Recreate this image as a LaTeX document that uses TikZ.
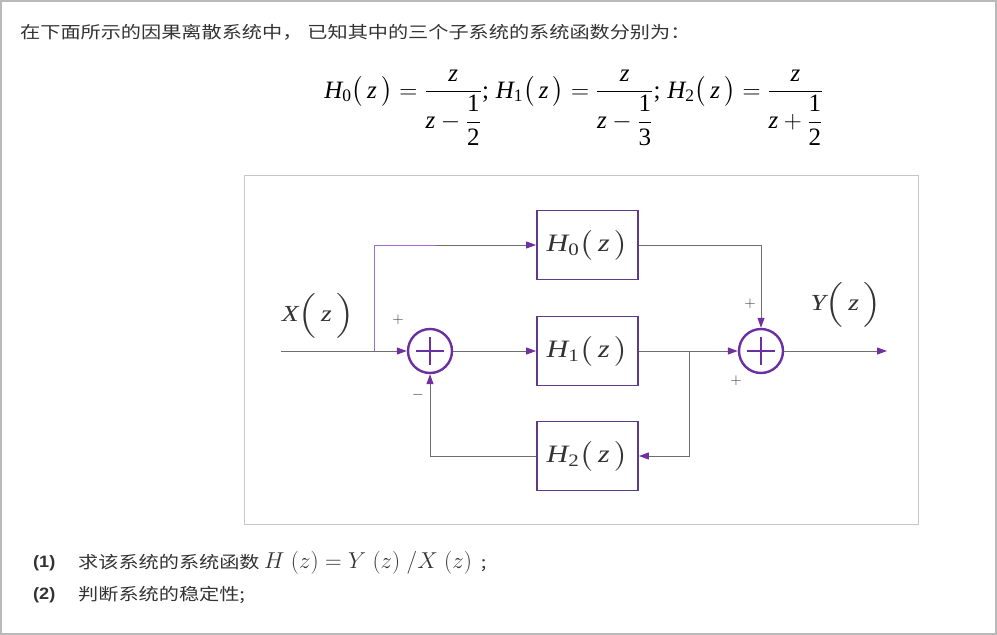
\RequirePackage{fix-cm}
\documentclass[tikz,border=0pt]{standalone}
\usepackage{amsmath}
\usepackage{graphicx}
\usepackage{fontspec}
\usetikzlibrary{arrows.meta}
\newfontfamily\cjk[FakeStretch=1.2]{Noto Sans CJK SC}
\newfontfamily\tnr{Liberation Serif}
\newfontfamily\arialb[FakeStretch=1.1]{Liberation Sans}
\newcommand\vi[1]{\text{\tnr\itshape #1}}
\newcommand\vr[1]{\text{\tnr #1}}
\newcommand\pz{\bigl(\,\vi{z}\,\bigr)}
\newcommand\Pz{\Bigl(\,\vi{z}\,\Bigr)}
\newcommand\hs[1]{\scalebox{1.2}[1]{#1}}
\definecolor{boxc}{HTML}{5F3A8C}
\definecolor{sumc}{HTML}{6A2FA0}
\definecolor{arrc}{HTML}{7030A0}
\definecolor{linec}{HTML}{6E6E6E}
\definecolor{lightp}{HTML}{9B6AE0}
\definecolor{txtc}{HTML}{333333}
\begin{document}
\begin{tikzpicture}[x=1pt,y=-1pt,
  blk/.style={draw=boxc,line width=1.8pt,minimum width=101pt,minimum height=69pt,inner sep=0pt,font=\fontsize{25}{27}\selectfont,text=txtc},
  summer/.style={draw=sumc,line width=2.4pt,circle,minimum size=44pt,inner sep=0pt},
  sig/.style={draw=linec,line width=1pt,-{Triangle[length=10pt,width=7pt,color=arrc]}},
  wire/.style={draw=linec,line width=1pt},
  sgn/.style={font=\fontsize{15}{15}\selectfont,text=txtc,inner sep=0pt},
  lbl/.style={font=\fontsize{23}{25}\selectfont,inner sep=0pt,text=txtc},
  txt/.style={anchor=west,inner sep=0pt,text=txtc}]
\useasboundingbox (0,0) rectangle (997,635);
\draw[draw=gray!55,line width=2pt] (1,1) rectangle (996,634);
% heading
\node[txt,font=\cjk\fontsize{16.8}{18}\selectfont] (head) at (20,32) {在下面所示的因果离散系统中，\hspace{5pt}已知其中的三个子系统的系统函数分别为：};
% formula
\node[inner sep=0pt,font=\fontsize{25}{28}\selectfont,text=black] (formula) at (574,108)
 {$\vi{H}_{\vr{0}}\pz=\dfrac{\vi{z}}{\vi{z}-\dfrac{\vr{1}}{\vr{2}}}\vr{;}\;
   \vi{H}_{\vr{1}}\pz=\dfrac{\vi{z}}{\vi{z}-\dfrac{\vr{1}}{\vr{3}}}\vr{;}\;
   \vi{H}_{\vr{2}}\pz=\dfrac{\vi{z}}{\vi{z}+\dfrac{\vr{1}}{\vr{2}}}$};
% diagram frame
\draw[draw=gray!45,line width=1pt] (244,175) rectangle (918,524);
% blocks
\node[blk] (h0) at (587.5,245) {\hs{$\vi{H}_{\vr{0}}\pz$}};
\node[blk] (h1) at (587.5,351) {\hs{$\vi{H}_{\vr{1}}\pz$}};
\node[blk] (h2) at (587.5,456) {\hs{$\vi{H}_{\vr{2}}\pz$}};
\node[summer] (s1) at (430,351) {};
\node[summer] (s2) at (761,351) {};
\foreach \s in {s1,s2}{
  \draw[draw=sumc,line width=2.4pt] ([xshift=-14pt]\s.center) -- ([xshift=14pt]\s.center);
  \draw[draw=sumc,line width=2.4pt] ([yshift=-14pt]\s.center) -- ([yshift=14pt]\s.center);
}
\coordinate (xin) at (281,351);
\coordinate (br1) at (374,351);
\coordinate (br2) at (689,351);
\coordinate (yout) at (887,351);
% connections
\path[sig] (xin) -- (s1.west);
\draw[draw=lightp,line width=1pt] (br1) |- (436,245);
\path[sig] (436,245) -- (h0.west);
\path[sig] (s1.east) -- (h1.west);
\path[sig] (h1.east) -- (s2.west);
\path[sig] (br2) |- (h2.east);
\path[sig] (h2.west) -| (s1.south);
\path[sig] (h0.east) -| (s2.north);
\path[sig] (s2.east) -- (yout);
% signs
\node[sgn] (p1) at (398,320) {$+$};
\node[sgn] (m1) at (418,395) {$-$};
\node[sgn] (p2) at (750,304) {$+$};
\node[sgn] (p3) at (736,381) {$+$};
% labels
\node[lbl] (xl) at (318,316) {\hs{$\vi{X}\Pz$}};
\node[lbl] (yl) at (846,305) {\hs{$\vi{Y}\Pz$}};
% questions
\node[txt,font=\arialb\bfseries\fontsize{16.5}{18}\selectfont] (q1n) at (33,563) {(1)};
\node[txt,font=\cjk\fontsize{16.8}{18}\selectfont] (q1) at (78,563) {求该系统的系统函数\ {\fontsize{23}{24}\selectfont$H\;(z)=Y\;(z)\;/X\;(z)$}\ \ ;};
\node[txt,font=\arialb\bfseries\fontsize{16.5}{18}\selectfont] (q2n) at (33,595) {(2)};
\node[txt,font=\cjk\fontsize{16.8}{18}\selectfont] (q2) at (78,595) {判断系统的稳定性;};
\end{tikzpicture}
\end{document}
